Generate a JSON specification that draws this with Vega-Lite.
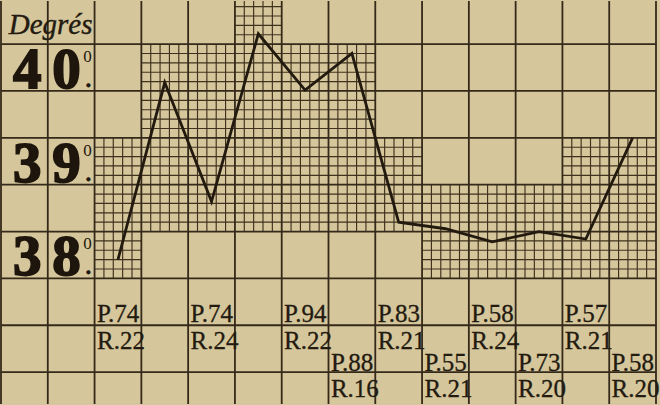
{
  "$schema": "https://vega.github.io/schema/vega-lite/v6.json",
  "width": 660,
  "height": 405,
  "autosize": {"type": "fit", "contains": "padding"},
  "padding": 0,
  "background": "#d5c69b",
  "config": {"view": {"stroke": null}},
  "datasets": {
    "temps": [
      {"slot": 1, "temp": 38.20},
      {"slot": 2, "temp": 40.09},
      {"slot": 3, "temp": 38.82},
      {"slot": 4, "temp": 40.61},
      {"slot": 5, "temp": 40.01},
      {"slot": 6, "temp": 40.40},
      {"slot": 7, "temp": 38.60},
      {"slot": 8, "temp": 38.53},
      {"slot": 9, "temp": 38.39},
      {"slot": 10, "temp": 38.50},
      {"slot": 11, "temp": 38.42},
      {"slot": 12, "temp": 39.50}
    ],
    "vmaj": [
      {"x": -1.5}, {"x": -0.5}, {"x": 0.5}, {"x": 1.5}, {"x": 2.5}, {"x": 3.5}, {"x": 4.5}, {"x": 5.5},
      {"x": 6.5}, {"x": 7.5}, {"x": 8.5}, {"x": 9.5}, {"x": 10.5}, {"x": 11.5}, {"x": 12.5}
    ],
    "hmaj": [
      {"t": 37}, {"t": 37.5}, {"t": 38}, {"t": 38.5}, {"t": 39}, {"t": 39.5}, {"t": 40}, {"t": 40.5}
    ],
    "vfine": [
      {"x": 0.7, "a": 38, "b": 39.5}, {"x": 0.9, "a": 38, "b": 39.5}, {"x": 1.1, "a": 38, "b": 39.5}, {"x": 1.3, "a": 38, "b": 39.5},
      {"x": 1.7, "a": 38.5, "b": 40.5}, {"x": 1.9, "a": 38.5, "b": 40.5}, {"x": 2.1, "a": 38.5, "b": 40.5}, {"x": 2.3, "a": 38.5, "b": 40.5},
      {"x": 2.7, "a": 38.5, "b": 40.5}, {"x": 2.9, "a": 38.5, "b": 40.5}, {"x": 3.1, "a": 38.5, "b": 40.5}, {"x": 3.3, "a": 38.5, "b": 40.5},
      {"x": 3.7, "a": 38.5, "b": 40.96}, {"x": 3.9, "a": 38.5, "b": 40.96}, {"x": 4.1, "a": 38.5, "b": 40.96}, {"x": 4.3, "a": 38.5, "b": 40.96},
      {"x": 4.7, "a": 38.5, "b": 40.5}, {"x": 4.9, "a": 38.5, "b": 40.5}, {"x": 5.1, "a": 38.5, "b": 40.5}, {"x": 5.3, "a": 38.5, "b": 40.5},
      {"x": 5.7, "a": 38.5, "b": 40.5}, {"x": 5.9, "a": 38.5, "b": 40.5}, {"x": 6.1, "a": 38.5, "b": 40.5}, {"x": 6.3, "a": 38.5, "b": 40.5},
      {"x": 6.7, "a": 38.5, "b": 39.5}, {"x": 6.9, "a": 38.5, "b": 39.5}, {"x": 7.1, "a": 38.5, "b": 39.5}, {"x": 7.3, "a": 38.5, "b": 39.5},
      {"x": 7.7, "a": 38, "b": 39}, {"x": 7.9, "a": 38, "b": 39}, {"x": 8.1, "a": 38, "b": 39}, {"x": 8.3, "a": 38, "b": 39},
      {"x": 8.7, "a": 38, "b": 39}, {"x": 8.9, "a": 38, "b": 39}, {"x": 9.1, "a": 38, "b": 39}, {"x": 9.3, "a": 38, "b": 39},
      {"x": 9.7, "a": 38, "b": 39}, {"x": 9.9, "a": 38, "b": 39}, {"x": 10.1, "a": 38, "b": 39}, {"x": 10.3, "a": 38, "b": 39},
      {"x": 10.7, "a": 38, "b": 39.5}, {"x": 10.9, "a": 38, "b": 39.5}, {"x": 11.1, "a": 38, "b": 39.5}, {"x": 11.3, "a": 38, "b": 39.5},
      {"x": 11.7, "a": 38, "b": 39.5}, {"x": 11.9, "a": 38, "b": 39.5}, {"x": 12.1, "a": 38, "b": 39.5}, {"x": 12.3, "a": 38, "b": 39.5}
    ],
    "hfine": [
      {"t": 38.1, "a": 0.5, "b": 1.5}, {"t": 38.2, "a": 0.5, "b": 1.5}, {"t": 38.3, "a": 0.5, "b": 1.5}, {"t": 38.4, "a": 0.5, "b": 1.5},
      {"t": 38.1, "a": 7.5, "b": 12.5}, {"t": 38.2, "a": 7.5, "b": 12.5}, {"t": 38.3, "a": 7.5, "b": 12.5}, {"t": 38.4, "a": 7.5, "b": 12.5},
      {"t": 38.6, "a": 0.5, "b": 12.5}, {"t": 38.7, "a": 0.5, "b": 12.5}, {"t": 38.8, "a": 0.5, "b": 12.5}, {"t": 38.9, "a": 0.5, "b": 12.5},
      {"t": 39.1, "a": 0.5, "b": 7.5}, {"t": 39.2, "a": 0.5, "b": 7.5}, {"t": 39.3, "a": 0.5, "b": 7.5}, {"t": 39.4, "a": 0.5, "b": 7.5},
      {"t": 39.1, "a": 10.5, "b": 12.5}, {"t": 39.2, "a": 10.5, "b": 12.5}, {"t": 39.3, "a": 10.5, "b": 12.5}, {"t": 39.4, "a": 10.5, "b": 12.5},
      {"t": 39.6, "a": 1.5, "b": 6.5}, {"t": 39.7, "a": 1.5, "b": 6.5}, {"t": 39.8, "a": 1.5, "b": 6.5}, {"t": 39.9, "a": 1.5, "b": 6.5},
      {"t": 40.1, "a": 1.5, "b": 6.5}, {"t": 40.2, "a": 1.5, "b": 6.5}, {"t": 40.3, "a": 1.5, "b": 6.5}, {"t": 40.4, "a": 1.5, "b": 6.5},
      {"t": 40.6, "a": 3.5, "b": 4.5}, {"t": 40.7, "a": 3.5, "b": 4.5}, {"t": 40.8, "a": 3.5, "b": 4.5}, {"t": 40.9, "a": 3.5, "b": 4.5}
    ],
    "degres": [
      {"deg": 40, "d1": "4", "d2": "0"},
      {"deg": 39, "d1": "3", "d2": "9"},
      {"deg": 38, "d1": "3", "d2": "8"}
    ],
    "pouls": [
      {"slot": 1, "p": "P.74", "r": "R.22", "rang": 1},
      {"slot": 3, "p": "P.74", "r": "R.24", "rang": 1},
      {"slot": 5, "p": "P.94", "r": "R.22", "rang": 1},
      {"slot": 6, "p": "P.88", "r": "R.16", "rang": 2},
      {"slot": 7, "p": "P.83", "r": "R.21", "rang": 1},
      {"slot": 8, "p": "P.55", "r": "R.21", "rang": 2},
      {"slot": 9, "p": "P.58", "r": "R.24", "rang": 1},
      {"slot": 10, "p": "P.73", "r": "R.20", "rang": 2},
      {"slot": 11, "p": "P.57", "r": "R.21", "rang": 1},
      {"slot": 12, "p": "P.58", "r": "R.20", "rang": 2}
    ]
  },
  "layer": [
    {
      "data": {"name": "vfine"},
      "mark": {"type": "rule", "stroke": "#3f321e", "strokeWidth": 1.15},
      "encoding": {
        "x": {"field": "x", "type": "quantitative", "scale": {"domain": [-1.5, 12.5], "nice": false, "zero": false}, "axis": null},
        "y": {"field": "a", "type": "quantitative", "scale": {"domain": [36.66, 40.96], "nice": false, "zero": false}, "axis": null},
        "y2": {"field": "b"}
      }
    },
    {
      "data": {"name": "hfine"},
      "mark": {"type": "rule", "stroke": "#3f321e", "strokeWidth": 1.15},
      "encoding": {
        "y": {"field": "t", "type": "quantitative", "scale": {"domain": [36.66, 40.96], "nice": false, "zero": false}, "axis": null},
        "x": {"field": "a", "type": "quantitative", "scale": {"domain": [-1.5, 12.5], "nice": false, "zero": false}, "axis": null},
        "x2": {"field": "b"}
      }
    },
    {
      "data": {"name": "vmaj"},
      "mark": {"type": "rule", "stroke": "#35291a", "strokeWidth": 1.8},
      "encoding": {
        "x": {"field": "x", "type": "quantitative", "scale": {"domain": [-1.5, 12.5], "nice": false, "zero": false}, "axis": null}
      }
    },
    {
      "data": {"name": "hmaj"},
      "mark": {"type": "rule", "stroke": "#35291a", "strokeWidth": 1.8},
      "encoding": {
        "y": {"field": "t", "type": "quantitative", "scale": {"domain": [36.66, 40.96], "nice": false, "zero": false}, "axis": null}
      }
    },
    {
      "data": {"name": "temps"},
      "mark": {"type": "line", "stroke": "#231a0f", "strokeWidth": 2.8, "strokeJoin": "miter"},
      "encoding": {
        "x": {"field": "slot", "type": "quantitative", "scale": {"domain": [-1.5, 12.5], "nice": false, "zero": false}, "axis": null},
        "y": {"field": "temp", "type": "quantitative", "scale": {"domain": [36.66, 40.96], "nice": false, "zero": false}, "axis": null}
      }
    },
    {
      "data": {"values": [{"titre": "Degrés"}]},
      "mark": {"type": "text", "font": "Liberation Serif, Times New Roman, DejaVu Serif, serif", "fontStyle": "italic", "fontSize": 29, "align": "center", "baseline": "alphabetic", "color": "#231a10", "stroke": "#231a10", "strokeWidth": 0.4},
      "encoding": {
        "text": {"field": "titre"},
        "x": {"datum": -0.44, "type": "quantitative", "scale": {"domain": [-1.5, 12.5], "nice": false, "zero": false}, "axis": null},
        "y": {"datum": 40.61, "type": "quantitative", "scale": {"domain": [36.66, 40.96], "nice": false, "zero": false}, "axis": null}
      }
    },
    {
      "data": {"name": "degres"},
      "mark": {"type": "text", "font": "Liberation Serif, Times New Roman, DejaVu Serif, serif", "fontWeight": "bold", "fontSize": 57, "align": "center", "baseline": "alphabetic", "dy": -3, "color": "#1e160c", "stroke": "#1e160c", "strokeWidth": 1.8},
      "encoding": {
        "text": {"field": "d1"},
        "x": {"datum": -0.94, "type": "quantitative", "scale": {"domain": [-1.5, 12.5], "nice": false, "zero": false}, "axis": null},
        "y": {"field": "deg", "type": "quantitative", "scale": {"domain": [36.66, 40.96], "nice": false, "zero": false}, "axis": null}
      }
    },
    {
      "data": {"name": "degres"},
      "mark": {"type": "text", "font": "Liberation Serif, Times New Roman, DejaVu Serif, serif", "fontWeight": "bold", "fontSize": 57, "align": "center", "baseline": "alphabetic", "dy": -3, "color": "#1e160c", "stroke": "#1e160c", "strokeWidth": 1.8},
      "encoding": {
        "text": {"field": "d2"},
        "x": {"datum": -0.1, "type": "quantitative", "scale": {"domain": [-1.5, 12.5], "nice": false, "zero": false}, "axis": null},
        "y": {"field": "deg", "type": "quantitative", "scale": {"domain": [36.66, 40.96], "nice": false, "zero": false}, "axis": null}
      }
    },
    {
      "data": {"name": "degres"},
      "mark": {"type": "text", "font": "Liberation Serif, Times New Roman, DejaVu Serif, serif", "fontSize": 17, "align": "center", "baseline": "alphabetic", "dy": -29, "color": "#1e160c"},
      "encoding": {
        "text": {"value": "0"},
        "x": {"datum": 0.35, "type": "quantitative", "scale": {"domain": [-1.5, 12.5], "nice": false, "zero": false}, "axis": null},
        "y": {"field": "deg", "type": "quantitative", "scale": {"domain": [36.66, 40.96], "nice": false, "zero": false}, "axis": null}
      }
    },
    {
      "data": {"name": "degres"},
      "mark": {"type": "text", "font": "Liberation Serif, Times New Roman, DejaVu Serif, serif", "fontWeight": "bold", "fontSize": 21, "align": "center", "baseline": "alphabetic", "dy": -4, "color": "#1e160c", "stroke": "#1e160c", "strokeWidth": 0.8},
      "encoding": {
        "text": {"value": "."},
        "x": {"datum": 0.37, "type": "quantitative", "scale": {"domain": [-1.5, 12.5], "nice": false, "zero": false}, "axis": null},
        "y": {"field": "deg", "type": "quantitative", "scale": {"domain": [36.66, 40.96], "nice": false, "zero": false}, "axis": null}
      }
    },
    {
      "data": {"name": "pouls"},
      "transform": [{"filter": "datum.rang == 1"}],
      "mark": {"type": "text", "font": "Liberation Serif, Times New Roman, DejaVu Serif, serif", "fontSize": 25, "align": "left", "baseline": "alphabetic", "dx": -21, "color": "#231a10", "stroke": "#231a10", "strokeWidth": 0.3},
      "encoding": {
        "text": {"field": "p"},
        "x": {"field": "slot", "type": "quantitative", "scale": {"domain": [-1.5, 12.5], "nice": false, "zero": false}, "axis": null},
        "y": {"datum": 37.53, "type": "quantitative", "scale": {"domain": [36.66, 40.96], "nice": false, "zero": false}, "axis": null}
      }
    },
    {
      "data": {"name": "pouls"},
      "transform": [{"filter": "datum.rang == 1"}],
      "mark": {"type": "text", "font": "Liberation Serif, Times New Roman, DejaVu Serif, serif", "fontSize": 25, "align": "left", "baseline": "alphabetic", "dx": -21, "color": "#231a10", "stroke": "#231a10", "strokeWidth": 0.3},
      "encoding": {
        "text": {"field": "r"},
        "x": {"field": "slot", "type": "quantitative", "scale": {"domain": [-1.5, 12.5], "nice": false, "zero": false}, "axis": null},
        "y": {"datum": 37.244, "type": "quantitative", "scale": {"domain": [36.66, 40.96], "nice": false, "zero": false}, "axis": null}
      }
    },
    {
      "data": {"name": "pouls"},
      "transform": [{"filter": "datum.rang == 2"}],
      "mark": {"type": "text", "font": "Liberation Serif, Times New Roman, DejaVu Serif, serif", "fontSize": 25, "align": "left", "baseline": "alphabetic", "dx": -21, "color": "#231a10", "stroke": "#231a10", "strokeWidth": 0.3},
      "encoding": {
        "text": {"field": "p"},
        "x": {"field": "slot", "type": "quantitative", "scale": {"domain": [-1.5, 12.5], "nice": false, "zero": false}, "axis": null},
        "y": {"datum": 37.01, "type": "quantitative", "scale": {"domain": [36.66, 40.96], "nice": false, "zero": false}, "axis": null}
      }
    },
    {
      "data": {"name": "pouls"},
      "transform": [{"filter": "datum.rang == 2"}],
      "mark": {"type": "text", "font": "Liberation Serif, Times New Roman, DejaVu Serif, serif", "fontSize": 25, "align": "left", "baseline": "alphabetic", "dx": -21, "color": "#231a10", "stroke": "#231a10", "strokeWidth": 0.3},
      "encoding": {
        "text": {"field": "r"},
        "x": {"field": "slot", "type": "quantitative", "scale": {"domain": [-1.5, 12.5], "nice": false, "zero": false}, "axis": null},
        "y": {"datum": 36.734, "type": "quantitative", "scale": {"domain": [36.66, 40.96], "nice": false, "zero": false}, "axis": null}
      }
    }
  ]
}
